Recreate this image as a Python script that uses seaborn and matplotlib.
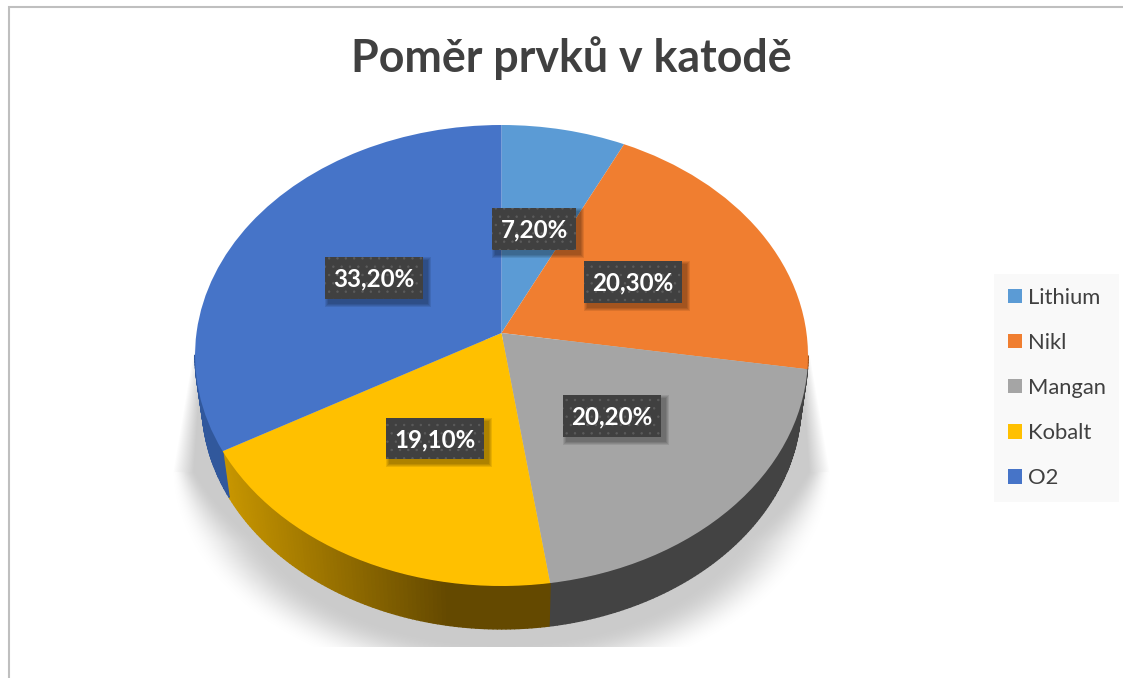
import numpy as np
import matplotlib
matplotlib.use("Agg")
import matplotlib.pyplot as plt
import matplotlib.transforms as mtransforms
from matplotlib.collections import PolyCollection
from matplotlib.colors import to_rgb
from matplotlib.patches import Patch, Rectangle
import seaborn as sns

# ---------- data ----------
categories = ["Lithium", "Nikl", "Mangan", "Kobalt", "O2"]
values = [7.2, 20.3, 20.2, 19.1, 33.2]
value_labels = ["7,20%", "20,30%", "20,20%", "19,10%", "33,20%"]
title = "Poměr prvků v katodě"

# ---------- styles ----------
top_colors = ["#5B9BD5", "#F07E30", "#A5A5A5", "#FFC000", "#4674C8"]
side_colors = ["#36689A", "#A5561F", "#434343", "#644900", "#31589C"]
text_color = "#404040"
FONT = ["Lato", "DejaVu Sans"]

sns.set_theme(style="white")
plt.rcParams["font.family"] = FONT
plt.rcParams["hatch.linewidth"] = 0.5

W, H = 1123, 678
fig = plt.figure(figsize=(W / 100, H / 100), dpi=100, facecolor="white")
ax = fig.add_axes([0, 0, 1, 1])

# ---------- tilted-disc projection (unit circle -> pixels) ----------
CX, APEX_Y, C, B, S = 501.5, 333.0, 0.0976, -195.8, 305.0
DEPTH_K, DEPTH_OFF = 0.977, 56.4


def project(u, v):
    w = 1 + C * v
    return CX + S * u / w, (APEX_Y + B * v) / w


class Tilt(mtransforms.Transform):
    input_dims = 2
    output_dims = 2
    is_separable = False
    has_inverse = False

    def transform_non_affine(self, values):
        pts = np.asarray(values, dtype=float)
        x, y = project(pts[:, 0], pts[:, 1])
        return np.column_stack([x, y])


wedges, _ = ax.pie(values, colors=top_colors, startangle=90, counterclock=False,
                   radius=1.0, wedgeprops=dict(linewidth=0, zorder=5))

ax.set_aspect("auto")
ax.set_xlim(0, W)
ax.set_ylim(H, 0)
ax.axis("off")
tilt = Tilt() + ax.transData
for w in wedges:
    w.set_transform(tilt)
    w.set_clip_on(False)

# ---------- soft ground shadow ----------
yy, xx = np.mgrid[0:H, 0:W] + 0.5
dx = np.abs(xx - CX)
sh_y, A_sh, B_sh = 472.0, 329.0, 215.0
dy = np.maximum(yy - sh_y, 0)
d = np.sqrt((dx / A_sh) ** 2 + (dy / B_sh) ** 2)
width_low = 0.07 + 0.13 * np.minimum(dy / 70, 1)
alpha_low = np.clip((1 - d) / width_low, 0, 1)
alpha_low = alpha_low * alpha_low * (3 - 2 * alpha_low)
edge = 306 + 0.17 * (yy - 340)
fade = 8 + 0.1 * np.maximum(yy - 345, 0)
alpha_up = np.clip((edge - dx) / fade, 0, 1)
alpha = np.where(yy < sh_y, alpha_up, alpha_low)
alpha[(yy < 340) | (yy > 647)] = 0
img = np.zeros((H, W, 4))
img[..., :3] = 203 / 255
img[..., 3] = alpha
ax.imshow(img, extent=(0, W, H, 0), aspect="auto", zorder=1, interpolation="nearest")
ax.set_xlim(0, W)
ax.set_ylim(H, 0)

# ---------- extruded side wall, driven by the values ----------
polys, cols = [], []
edges = np.cumsum([0] + values) / sum(values) * 2 * np.pi
for i in range(len(values)):
    ts = np.arange(edges[i], edges[i + 1], np.radians(0.75))
    ts = np.append(ts, edges[i + 1])
    for t0, t1 in zip(ts[:-1], ts[1:]):
        if np.cos(t0) > -0.1 and np.cos(t1) > -0.1:
            continue
        x0, y0 = project(np.sin(t0), np.cos(t0))
        x1, y1 = project(np.sin(t1), np.cos(t1))
        bx0, by0 = CX + DEPTH_K * (x0 - CX), DEPTH_K * y0 + DEPTH_OFF
        bx1, by1 = CX + DEPTH_K * (x1 - CX), DEPTH_K * y1 + DEPTH_OFF
        polys.append([(x0, y0), (x1, y1), (bx1, by1), (bx0, by0)])
        col = np.array(to_rgb(side_colors[i]))
        if categories[i] == "Kobalt":
            f = np.clip((bx0 - 229) / (450 - 229), 0, 1)
            col = (1 - f) * np.array(to_rgb("#C89600")) + f * col
        cols.append(col)
ax.add_collection(PolyCollection(polys, facecolors=cols, edgecolors=cols,
                                 linewidths=1.0, zorder=3))

# ---------- data labels ----------
label_boxes = [(492, 208, 84, 42), (584, 261, 98, 42), (563, 395, 98, 42),
               (386, 418, 98, 41), (325, 257, 98, 42)]
for lab, (bx, by, bw, bh) in zip(value_labels, label_boxes):
    for g in (4, 3, 2, 1):
        ax.add_patch(Rectangle((bx + 4 - g, by + 4 - g), bw + 2 * g, bh + 2 * g,
                               fc="black", ec="none", alpha=0.09, zorder=6))
    ax.add_patch(Rectangle((bx, by), bw, bh, fc="#404040", ec="#5C5C5C", lw=0,
                           hatch="..", zorder=7))
    ax.text(bx + bw / 2, by + bh / 2 + 1, lab, color="white", fontsize=17.4,
            fontweight="bold", ha="center", va="center", zorder=8)

# ---------- title ----------
ax.text(571, 58, title, color=text_color, fontsize=32.2, fontweight="bold",
        ha="center", va="center", zorder=8)

# ---------- chart-area border ----------
ax.plot([8.5, 8.5, W], [H, 6.5, 6.5], color="#BFBFBF", lw=1.5, zorder=9,
        solid_joinstyle="miter", clip_on=False)

# ---------- legend ----------
handles = [Patch(fc=c, ec="none", label=n) for c, n in zip(top_colors, categories)]
leg = ax.legend(handles=handles, loc="upper left", bbox_to_anchor=(994 / W, 1 - 274 / H),
                bbox_transform=fig.transFigure, borderaxespad=0, fontsize=15.8,
                frameon=True, fancybox=False, facecolor="#F9F9F9", edgecolor="none",
                framealpha=1, handlelength=0.64, handleheight=0.64, handletextpad=0.27,
                labelspacing=1.146, borderpad=0.62, labelcolor=text_color)
leg.set_zorder(8)

fig.savefig("out.png", dpi=100, facecolor="white")
